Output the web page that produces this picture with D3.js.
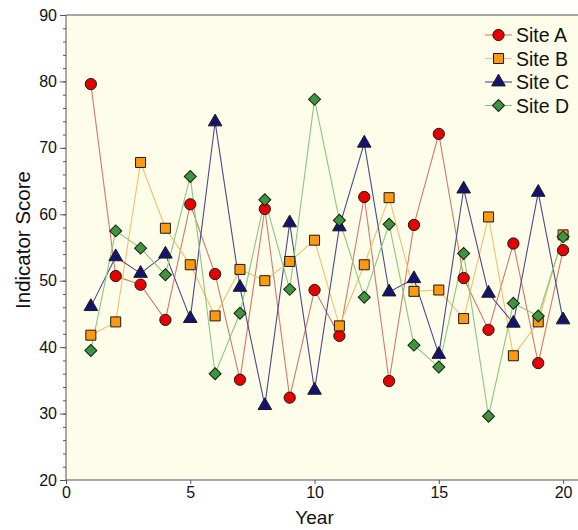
<!DOCTYPE html>
<html lang="en">
<head>
<meta charset="UTF-8">
<title>Indicator Score</title>
<script src="https://d3js.org/d3.v7.min.js"></script>
<style>
  body { margin: 0; background: #fff; }
  text { font-family: "Liberation Sans", Arial, sans-serif; fill: #111; }
</style>
</head>
<body>
<svg width="578" height="530" id="mainsvg"></svg>
<script>
// data
const years = d3.range(1, 21);
const siteA = [79.6, 50.7, 49.4, 44.1, 61.5, 51.0, 35.1, 60.8, 32.4, 48.6, 41.7, 62.6, 34.9, 58.4, 72.1, 50.4, 42.6, 55.6, 37.6, 54.6];
const siteB = [41.8, 43.8, 67.8, 57.9, 52.4, 44.7, 51.7, 50.0, 52.9, 56.1, 43.2, 52.4, 62.5, 48.4, 48.6, 44.3, 59.6, 38.7, 43.8, 56.9];
const siteC = [46.1, 53.6, 51.1, 54.0, 44.3, 73.9, 49.0, 31.2, 58.7, 33.5, 58.1, 70.7, 48.3, 50.3, 38.9, 63.8, 48.1, 43.6, 63.3, 44.1];
const siteD = [39.5, 57.5, 54.9, 50.9, 65.7, 36.0, 45.1, 62.2, 48.7, 77.3, 59.1, 47.5, 58.5, 40.3, 37.0, 54.1, 29.6, 46.6, 44.7, 56.6];
const seriesNames = ['Site A', 'Site B', 'Site C', 'Site D'];
const xTicks = [0, 5, 10, 15, 20];
const yTicks = [20, 30, 40, 50, 60, 70, 80, 90];

// diamond = square turned 45 degrees
const series = [
  { name: seriesNames[0], values: siteA, line: '#d27a6a', fill: '#e60000', symbol: d3.symbolCircle, size: 100, rot: 0 },
  { name: seriesNames[1], values: siteB, line: '#f0c070', fill: '#ff9a10', symbol: d3.symbolSquare, size: 100, rot: 0 },
  { name: seriesNames[2], values: siteC, line: '#4a4a90', fill: '#141470', symbol: d3.symbolTriangle, size: 80, rot: 0 },
  { name: seriesNames[3], values: siteD, line: '#88c880', fill: '#3c963c', symbol: d3.symbolSquare, size: 72, rot: 45 }
];

const svg = d3.select('#mainsvg');
const margin = { top: 15, right: 0, bottom: 50, left: 66 };
const innerWidth = 578 - margin.left - margin.right;
const innerHeight = 530 - margin.top - margin.bottom;

const x = d3.scaleLinear().domain([0, 20.6]).range([0, innerWidth]);
const y = d3.scaleLinear().domain([20, 90]).range([innerHeight, 0]);

const g = svg.append('g').attr('transform', `translate(${margin.left},${margin.top})`);

// plot background
g.append('rect')
  .attr('width', innerWidth).attr('height', innerHeight)
  .attr('fill', '#fefde9');

// top frame line
g.append('line')
  .attr('x1', 0).attr('x2', innerWidth).attr('y1', 0).attr('y2', 0)
  .attr('stroke', '#8a8a8a').attr('stroke-width', 1.5);

// minor y ticks (no labels)
const yMinor = g.append('g').call(d3.axisLeft(y).tickValues(d3.range(20, 91, 2)).tickSize(3));
yMinor.select('.domain').remove();
yMinor.selectAll('.tick text').remove();
yMinor.selectAll('.tick line').attr('stroke', '#555');

// y axis
const yAxis = g.append('g').call(d3.axisLeft(y).tickValues(yTicks).tickSize(6).tickPadding(3));
yAxis.selectAll('.tick text').attr('font-size', 16).attr('fill', '#222');
yAxis.select('.domain').attr('stroke', '#555').attr('d', `M0,0V${innerHeight}`);
yAxis.selectAll('.tick line').attr('stroke', '#555');

// x axis
const xAxis = g.append('g')
  .attr('transform', `translate(0,${innerHeight})`)
  .call(d3.axisBottom(x).tickValues(xTicks).tickSize(4).tickPadding(3));
xAxis.selectAll('.tick text').attr('font-size', 16).attr('fill', '#222');
xAxis.select('.domain').attr('stroke', '#555').attr('d', `M0,0H${innerWidth}`);
xAxis.selectAll('.tick line').attr('stroke', '#555');

// axis titles
svg.append('text')
  .attr('x', margin.left + x(10)).attr('y', 524)
  .attr('text-anchor', 'middle').attr('font-size', 19)
  .text('Year');
svg.append('text')
  .attr('transform', 'translate(30,240) rotate(-90)')
  .attr('text-anchor', 'middle').attr('font-size', 20.5)
  .text('Indicator Score');

// lines
const lineGen = d3.line().x((d, i) => x(years[i])).y(d => y(d));
series.forEach(s => {
  g.append('path')
    .datum(s.values)
    .attr('fill', 'none')
    .attr('stroke', s.line)
    .attr('stroke-width', 1.1)
    .attr('d', lineGen);
});

// markers
series.forEach(s => {
  g.selectAll(null)
    .data(s.values)
    .enter()
    .append('path')
    .attr('transform', (d, i) => `translate(${x(years[i])},${y(d)}) rotate(${s.rot})`)
    .attr('d', d3.symbol().type(s.symbol).size(s.size))
    .attr('fill', s.fill)
    .attr('stroke', '#1a1a1a')
    .attr('stroke-width', 1);
});

// legend
const legend = svg.append('g').attr('transform', 'translate(485,35)');
series.forEach((s, i) => {
  const row = legend.append('g').attr('transform', `translate(0,${i * 23.5})`);
  row.append('line').attr('x1', 0).attr('x2', 27).attr('stroke', s.line).attr('stroke-width', 1.1);
  row.append('path')
    .attr('transform', `translate(13.5,0) rotate(${s.rot})`)
    .attr('d', d3.symbol().type(s.symbol).size(s.size))
    .attr('fill', s.fill).attr('stroke', '#1a1a1a').attr('stroke-width', 1);
  row.append('text')
    .attr('x', 31).attr('y', 7)
    .attr('font-size', 19.5)
    .text(s.name);
});
</script>
</body>
</html>
